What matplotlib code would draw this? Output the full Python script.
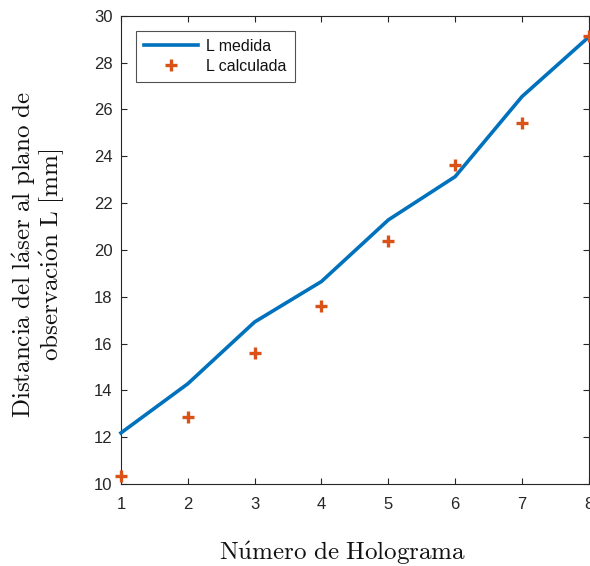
import matplotlib
matplotlib.use("Agg")
import matplotlib.pyplot as plt

# Hologram number and distances (mm)
holograma = [1, 2, 3, 4, 5, 6, 7, 8]
l_medida = [12.18, 14.28, 16.92, 18.65, 21.28, 23.13, 26.55, 29.1]
l_calculada = [10.35, 12.85, 15.6, 17.6, 20.4, 23.63, 25.42, 29.15]
y_ticks = [10, 12, 14, 16, 18, 20, 22, 24, 26, 28, 30]

plt.rcParams['mathtext.fontset'] = 'cm'
plt.rcParams['font.family'] = ['Liberation Sans', 'DejaVu Sans']

axis_color = '#262626'

fig = plt.figure(figsize=(5.9, 5.66), dpi=100)
ax = fig.add_axes([0.205, 0.145, 0.793, 0.827])

ax.plot(holograma, l_medida, color='#0072BD', linewidth=2.6, label='L medida',
        zorder=3, clip_on=False)
ax.plot(holograma, l_calculada, linestyle='none', marker='+', markersize=9,
        markeredgewidth=2.4, color='#D95319', label='L calculada', zorder=4,
        clip_on=False)

ax.set_xlim(1, 8)
ax.set_ylim(10, 30)
ax.set_xticks(holograma)
ax.set_yticks(y_ticks)

for side in ax.spines.values():
    side.set_color(axis_color)
    side.set_linewidth(0.8)
ax.tick_params(direction='in', length=4, width=0.8, colors=axis_color,
               labelsize=12, top=True, right=True)
ax.tick_params(axis='x', pad=9.5)
ax.tick_params(axis='y', pad=6)
for lbl in ax.get_xticklabels() + ax.get_yticklabels():
    lbl.set_color(axis_color)

ax.set_xlabel(r'$\mathrm{N\acute{u}mero\ de\ Holograma}$', fontsize=18,
              color='#111111')
ax.xaxis.set_label_coords(0.474, -0.148, transform=ax.transAxes)
ax.xaxis.label.set_va('center')
ax.set_ylabel(r'$\mathrm{Distancia\ del\ l\acute{a}ser\ al\ plano\ de}$' + '\n'
              + r'$\mathrm{observaci\acute{o}n\ L\ [mm]}$', fontsize=18,
              color='#111111', linespacing=0.95)
ax.yaxis.set_label_coords(-0.1765, 0.489, transform=ax.transAxes)
ax.yaxis.label.set_va('center')

leg = ax.legend(loc='upper left', bbox_to_anchor=(0.032, 0.968), fontsize=11.5,
                frameon=True, fancybox=False, handlelength=3.4,
                borderpad=0.5, labelspacing=0.3, handletextpad=0.5,
                borderaxespad=0.0)
leg.get_frame().set_edgecolor(axis_color)
leg.get_frame().set_linewidth(0.8)
for t in leg.get_texts():
    t.set_color('#111111')

fig.savefig('out.png', dpi=100)
